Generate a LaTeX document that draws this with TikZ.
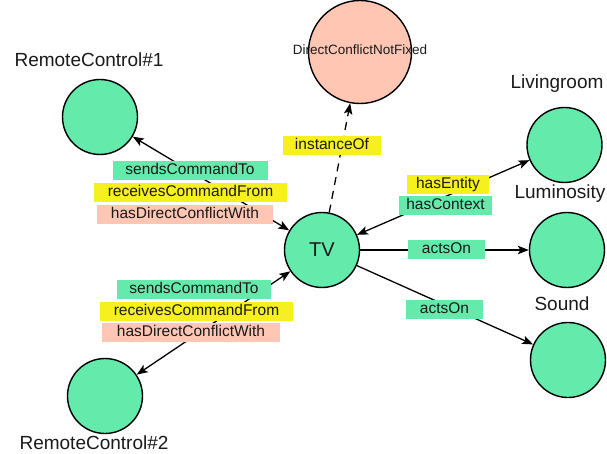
\documentclass[tikz,border=0pt]{standalone}
\usepackage{fontspec}
\setmainfont{Liberation Sans}
\usetikzlibrary{arrows.meta}
\definecolor{ngreen}{HTML}{64EBAB}
\definecolor{nyellow}{HTML}{F7F01F}
\definecolor{nsalmon}{HTML}{FFC6B3}
\definecolor{ink}{HTML}{1A1A1A}
\tikzset{
  ent/.style={circle,draw=black,line width=1.4pt,fill=ngreen,inner sep=0pt,minimum size=75pt},
  cls/.style={circle,draw=black,line width=1.4pt,fill=nsalmon,inner sep=0pt,minimum size=103pt},
  title/.style={font=\fontsize{19}{22}\selectfont,text=ink,inner sep=0pt},
  lab/.style={font=\fontsize{15.5}{18}\selectfont,text=ink,inner sep=0pt,minimum height=19pt,text height=11.5pt,text depth=3.5pt},
  lg/.style={lab,fill=ngreen},
  ly/.style={lab,fill=nyellow},
  ls/.style={lab,fill=nsalmon},
  edge/.style={line width=1.3pt,draw=black},
  tip/.tip={Stealth[length=11pt,width=8.5pt,inset=2.5pt]},
}
\begin{document}
\begin{tikzpicture}[x=1pt,y=-1pt]
\useasboundingbox (0,0) rectangle (607,454);
% nodes
\node[ent] (tv) at (322,250) {\fontsize{20}{24}\selectfont\color{ink}TV};
\node[cls] (dc) at (360,52) {};
\node[font=\fontsize{13.5}{16}\selectfont,text=ink] (dct) at (360,50) {DirectConflictNotFixed};
\node[ent] (rc1) at (100,117) {};
\node[ent] (rc2) at (105,396) {};
\node[ent] (liv) at (564.5,145) {};
\node[ent] (lum) at (567,250) {};
\node[ent] (snd) at (568,360) {};
% titles
\node[title] (trc1) at (89,60) {RemoteControl\#1};
\node[title] (trc2) at (94,443) {RemoteControl\#2};
\node[title] (tliv) at (557,84) {Livingroom};
\node[title] (tlum) at (560,194) {Luminosity};
\node[title] (tsnd) at (562,304) {Sound};
% edges
\draw[edge,{tip}-{tip}] (tv) -- (rc1);
\draw[edge,{tip}-{tip}] (tv) -- (rc2);
\draw[edge,{tip}-{tip}] (tv) -- (liv);
\draw[edge,-{tip}] (tv) -- (lum);
\draw[edge,-{tip}] (tv) -- (snd);
\draw[edge,dashed,dash pattern=on 8pt off 6pt,-{tip}] (tv) -- (dc);
% edge labels
\node[lg,minimum width=155pt] (s1) at (190,170.5) {sendsCommandTo};
\node[ly,minimum width=193pt] (r1) at (190.5,193) {receivesCommandFrom};
\node[ls,minimum width=176pt] (h1) at (185,214.5) {hasDirectConflictWith};
\node[lg,minimum width=154pt] (s2) at (194,289.5) {sendsCommandTo};
\node[ly,minimum width=193pt] (r2) at (196.5,311.5) {receivesCommandFrom};
\node[ls,minimum width=178pt] (h2) at (191,332.5) {hasDirectConflictWith};
\node[ly,minimum width=98pt] (io) at (332,146) {instanceOf};
\node[ly,minimum width=82pt] (he) at (448,184.5) {hasEntity};
\node[lg,minimum width=93pt] (hc) at (445.5,206) {hasContext};
\node[lg,minimum width=77pt] (a1) at (446.5,249.5) {actsOn};
\node[lg,minimum width=77pt] (a2) at (444.5,309.5) {actsOn};
\end{tikzpicture}
\end{document}
